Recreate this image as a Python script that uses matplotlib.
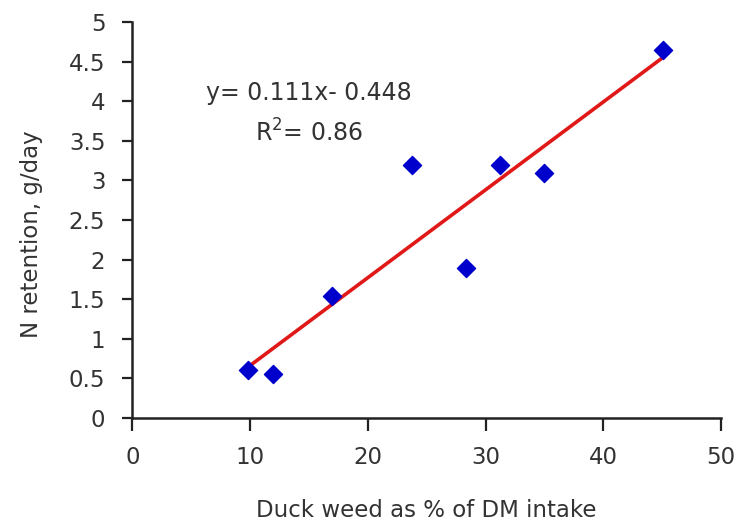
import matplotlib
matplotlib.use("Agg")
import matplotlib.pyplot as plt
import numpy as np

# duckweed share of DM intake (%) vs N retention (g/day)
duckweed_pct = [9.84, 11.96, 16.98, 23.72, 28.33, 31.2, 34.99, 45.1]
n_retention  = [0.61, 0.56, 1.54, 3.19, 1.89, 3.19, 3.10, 4.65]
slope, intercept = 0.111, -0.448
r_squared = 0.86
x_ticks = [0, 10, 20, 30, 40, 50]
y_ticks = [0, 0.5, 1, 1.5, 2, 2.5, 3, 3.5, 4, 4.5, 5]

plt.rcParams["font.family"] = ["DejaVu Sans"]
txt = "#333333"

fig = plt.figure(figsize=(7.48, 5.27), dpi=100)
ax = fig.add_axes([0.177, 0.207, 0.787, 0.751])

fit_x = np.array([min(duckweed_pct), max(duckweed_pct)])
ax.plot(fit_x, slope * fit_x + intercept, color="#e01818", linewidth=2.6, zorder=2)
ax.scatter(duckweed_pct, n_retention, marker="D", s=85, color="#0000cc", zorder=3)

ax.set_xlim(0, 50)
ax.set_ylim(0, 5)
ax.set_xticks(x_ticks)
ax.set_yticks(y_ticks)
ax.set_yticklabels([f"{v:g}" for v in y_ticks])
ax.spines["top"].set_visible(False)
ax.spines["right"].set_visible(False)
for s in ("left", "bottom"):
    ax.spines[s].set_linewidth(1.8)
    ax.spines[s].set_color("#222222")
ax.tick_params(axis="both", direction="out", length=7.5, width=1.6,
               colors="#222222", labelsize=16.5, labelcolor=txt)
ax.tick_params(axis="y", pad=12)
ax.tick_params(axis="x", length=9, pad=11)

ax.set_xlabel("Duck weed as % of DM intake", fontsize=16.5, color=txt)
ax.xaxis.set_label_coords(0.5, -0.205)
ax.set_ylabel("N retention, g/day", fontsize=16.5, color=txt)
ax.yaxis.set_label_coords(-0.152, 0.465)

ax.text(15.0, 4.10, f"y= {slope}x- {abs(intercept)}", fontsize=17, color=txt,
        ha="center", va="center")
ax.text(15.0, 3.60, f"R$^{{2}}$= {r_squared}", fontsize=17, color=txt,
        ha="center", va="center")

fig.savefig("out.png", dpi=100)
